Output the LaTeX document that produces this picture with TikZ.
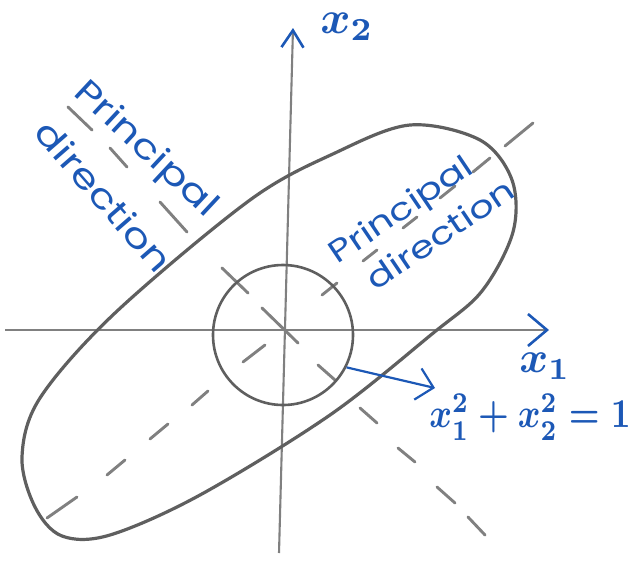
\documentclass[tikz,border=0pt]{standalone}
\usepackage{amsmath}
\usepackage{fontspec}
\newfontfamily\hand[FakeStretch=1.25]{Poppins}
\usetikzlibrary{arrows.meta}
\definecolor{ink}{RGB}{28,88,182}
\definecolor{pencil}{RGB}{95,95,95}
\definecolor{pencillight}{RGB}{128,128,128}
\begin{document}
\begin{tikzpicture}[x=1pt,y=-1pt,
  handL/.style={text=ink, inner sep=0pt, font=\hand\fontsize{34}{34}\selectfont},
  handR/.style={text=ink, inner sep=0pt, font=\hand\fontsize{31}{31}\selectfont},
  mathlab/.style={text=ink, inner sep=0pt},
  axisline/.style={draw=pencillight, line width=2.1pt},
  dashstroke/.style={draw=pencillight, line width=2.9pt, line cap=round},
  outline/.style={draw=pencil, line width=3.2pt, line join=round}]
\useasboundingbox (0,0) rectangle (637,563);

% axes
\coordinate (xl) at (5,330);
\coordinate (xr) at (549,330);
\coordinate (yb) at (279,553);
\coordinate (yt) at (293,28);
\draw[axisline, -{Straight Barb[length=19pt,width=32pt,color=ink,line width=2.6pt]}] (xl) -- (xr);
\draw[axisline, -{Straight Barb[length=17pt,width=22pt,color=ink,line width=2.6pt]}] (yb) -- (yt);

% principal directions (dashed)
\foreach \xa/\ya/\xb/\yb in {47/518/77/497, 107/475/125/460, 150/439/168/424,
  192/405/208/391, 243/362/265/345, 322/295/337/283, 363/261/377/250,
  403/228/417/217, 440/198/455/186, 473/172/490/158, 505/146/533/123}
  \draw[dashstroke] (\xa,\ya) -- (\xb,\yb);
\foreach \xa/\ya/\xb/\yb in {68/107/92/130, 110/148/127/167, 160/202/187/232,
  222/268/248/293, 262/308/298/343, 318/365/335/380, 360/408/377/423,
  398/448/415/462, 437/487/455/503, 468/517/485/535}
  \draw[dashstroke] (\xa,\ya) -- (\xb,\yb);

% ellipse
\draw[outline] plot[smooth cycle, tension=0.55] coordinates {
  (410,125) (480,140) (512,180) (513,232) (482,291) (432,334)
  (330,415) (200,495) (110,535) (62,536) (35,507) (22,457) (40,398)
  (115,313) (250,200) (335,153)};

% unit circle
\node[draw=pencil, line width=2.6pt, circle, minimum size=140pt, inner sep=0pt] (unit) at (283,335) {};

% labels
\node[mathlab] (lx2) at (347,27) {\scalebox{4.6}{$\boldsymbol{x}_{\boldsymbol{2}}$}};
\node[mathlab] (lx1) at (545,366) {\scalebox{4.4}{$\boldsymbol{x}_{\boldsymbol{1}}$}};
\node[mathlab] (eq) at (530,417) {\scalebox{3.45}[4.1]{$\boldsymbol{x_1^2+x_2^2=1}$}};

\node[handL, rotate=-43] (p1) at (145,150) {Principal};
\node[handL, rotate=-49] (d1) at (104,196) {direction};
\node[handR, rotate=34] (p2) at (402,212) {Principal};
\node[handR, rotate=34] (d2) at (440,234) {direction};

% pointer to the circle equation
\coordinate (arrowend) at (435,388);
\draw[ink, line width=2.2pt, -{Straight Barb[length=16pt,width=32pt]}] (unit.-27) -- (arrowend);
\end{tikzpicture}
\end{document}
